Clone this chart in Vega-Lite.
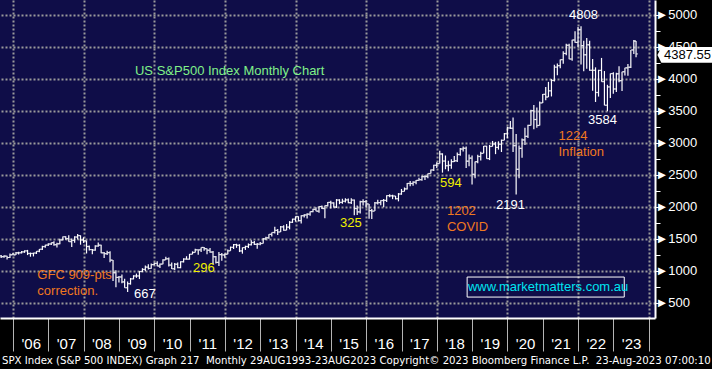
{
  "$schema": "https://vega.github.io/schema/vega-lite/v6.json",
  "width": 655,
  "height": 318,
  "autosize": {"type": "none"},
  "padding": {"left": 0, "top": 0, "right": 57, "bottom": 51},
  "background": "#000000",
  "title": {
    "text": "SPX Index (S&P 500 INDEX) Graph 217\u00a0 Monthly 29AUG1993-23AUG2023 Copyright© 2023 Bloomberg Finance L.P.\u00a0 23-Aug-2023 07:00:10",
    "orient": "bottom", "anchor": "start", "frame": "group",
    "color": "#ffffff", "font": "DejaVu Sans", "fontSize": 10.2, "fontWeight": "normal",
    "offset": 4, "dx": 2
  },
  "config": {
    "view": {"fill": "#0f0d48", "stroke": null}
  },
  "resolve": {"axis": {"x": "independent", "y": "independent"}},
  "datasets": {
    "spx": [
      {"d":"2005-08-31","o":1234,"h":1245,"l":1201,"c":1220},
      {"d":"2005-09-30","o":1220,"h":1243,"l":1205,"c":1229},
      {"d":"2005-10-31","o":1229,"h":1233,"l":1174,"c":1207},
      {"d":"2005-11-30","o":1207,"h":1270,"l":1201,"c":1249},
      {"d":"2005-12-31","o":1249,"h":1276,"l":1246,"c":1248},
      {"d":"2006-01-31","o":1248,"h":1295,"l":1246,"c":1280},
      {"d":"2006-02-28","o":1280,"h":1297,"l":1253,"c":1281},
      {"d":"2006-03-31","o":1281,"h":1310,"l":1268,"c":1295},
      {"d":"2006-04-30","o":1295,"h":1319,"l":1280,"c":1311},
      {"d":"2006-05-31","o":1311,"h":1326,"l":1245,"c":1270},
      {"d":"2006-06-30","o":1270,"h":1284,"l":1219,"c":1270},
      {"d":"2006-07-31","o":1270,"h":1281,"l":1224,"c":1277},
      {"d":"2006-08-31","o":1277,"h":1306,"l":1262,"c":1304},
      {"d":"2006-09-30","o":1304,"h":1340,"l":1290,"c":1336},
      {"d":"2006-10-31","o":1336,"h":1389,"l":1326,"c":1378},
      {"d":"2006-11-30","o":1378,"h":1407,"l":1360,"c":1401},
      {"d":"2006-12-31","o":1401,"h":1431,"l":1385,"c":1418},
      {"d":"2007-01-31","o":1418,"h":1441,"l":1403,"c":1438},
      {"d":"2007-02-28","o":1438,"h":1462,"l":1389,"c":1407},
      {"d":"2007-03-31","o":1407,"h":1439,"l":1364,"c":1421},
      {"d":"2007-04-30","o":1421,"h":1499,"l":1416,"c":1482},
      {"d":"2007-05-31","o":1482,"h":1535,"l":1476,"c":1531},
      {"d":"2007-06-30","o":1531,"h":1541,"l":1484,"c":1503},
      {"d":"2007-07-31","o":1503,"h":1556,"l":1454,"c":1455},
      {"d":"2007-08-31","o":1455,"h":1503,"l":1371,"c":1474},
      {"d":"2007-09-30","o":1474,"h":1539,"l":1439,"c":1527},
      {"d":"2007-10-31","o":1527,"h":1576,"l":1490,"c":1549},
      {"d":"2007-11-30","o":1549,"h":1553,"l":1407,"c":1481},
      {"d":"2007-12-31","o":1481,"h":1523,"l":1435,"c":1468},
      {"d":"2008-01-31","o":1468,"h":1471,"l":1270,"c":1379},
      {"d":"2008-02-28","o":1379,"h":1396,"l":1316,"c":1331},
      {"d":"2008-03-31","o":1331,"h":1340,"l":1257,"c":1323},
      {"d":"2008-04-30","o":1323,"h":1397,"l":1312,"c":1386},
      {"d":"2008-05-31","o":1386,"h":1440,"l":1374,"c":1400},
      {"d":"2008-06-30","o":1400,"h":1405,"l":1272,"c":1280},
      {"d":"2008-07-31","o":1280,"h":1292,"l":1200,"c":1267},
      {"d":"2008-08-31","o":1267,"h":1314,"l":1248,"c":1283},
      {"d":"2008-09-30","o":1283,"h":1304,"l":1133,"c":1166},
      {"d":"2008-10-31","o":1166,"h":1167,"l":840,"c":969},
      {"d":"2008-11-30","o":969,"h":1007,"l":741,"c":896},
      {"d":"2008-12-31","o":896,"h":918,"l":816,"c":903},
      {"d":"2009-01-31","o":903,"h":943,"l":805,"c":826},
      {"d":"2009-02-28","o":826,"h":876,"l":735,"c":735},
      {"d":"2009-03-31","o":735,"h":833,"l":667,"c":798},
      {"d":"2009-04-30","o":798,"h":888,"l":783,"c":873},
      {"d":"2009-05-31","o":873,"h":930,"l":866,"c":919},
      {"d":"2009-06-30","o":919,"h":956,"l":889,"c":919},
      {"d":"2009-07-31","o":919,"h":996,"l":870,"c":988},
      {"d":"2009-08-31","o":988,"h":1040,"l":979,"c":1021},
      {"d":"2009-09-30","o":1021,"h":1081,"l":992,"c":1057},
      {"d":"2009-10-31","o":1057,"h":1101,"l":1020,"c":1036},
      {"d":"2009-11-30","o":1036,"h":1113,"l":1030,"c":1096},
      {"d":"2009-12-31","o":1096,"h":1130,"l":1086,"c":1115},
      {"d":"2010-01-31","o":1115,"h":1150,"l":1071,"c":1074},
      {"d":"2010-02-28","o":1074,"h":1112,"l":1045,"c":1104},
      {"d":"2010-03-31","o":1104,"h":1180,"l":1102,"c":1169},
      {"d":"2010-04-30","o":1169,"h":1220,"l":1167,"c":1187},
      {"d":"2010-05-31","o":1187,"h":1206,"l":1066,"c":1089},
      {"d":"2010-06-30","o":1089,"h":1131,"l":1029,"c":1031},
      {"d":"2010-07-31","o":1031,"h":1120,"l":1011,"c":1102},
      {"d":"2010-08-31","o":1102,"h":1129,"l":1040,"c":1049},
      {"d":"2010-09-30","o":1049,"h":1148,"l":1040,"c":1141},
      {"d":"2010-10-31","o":1141,"h":1196,"l":1131,"c":1183},
      {"d":"2010-11-30","o":1183,"h":1227,"l":1174,"c":1181},
      {"d":"2010-12-31","o":1181,"h":1263,"l":1174,"c":1258},
      {"d":"2011-01-31","o":1258,"h":1303,"l":1257,"c":1286},
      {"d":"2011-02-28","o":1286,"h":1344,"l":1285,"c":1327},
      {"d":"2011-03-31","o":1327,"h":1333,"l":1249,"c":1326},
      {"d":"2011-04-30","o":1326,"h":1364,"l":1295,"c":1364},
      {"d":"2011-05-31","o":1364,"h":1371,"l":1312,"c":1345},
      {"d":"2011-06-30","o":1345,"h":1346,"l":1258,"c":1321},
      {"d":"2011-07-31","o":1321,"h":1357,"l":1282,"c":1292},
      {"d":"2011-08-31","o":1292,"h":1307,"l":1101,"c":1219},
      {"d":"2011-09-30","o":1219,"h":1230,"l":1114,"c":1131},
      {"d":"2011-10-31","o":1131,"h":1293,"l":1075,"c":1253},
      {"d":"2011-11-30","o":1253,"h":1277,"l":1158,"c":1247},
      {"d":"2011-12-31","o":1247,"h":1270,"l":1202,"c":1258},
      {"d":"2012-01-31","o":1258,"h":1334,"l":1258,"c":1312},
      {"d":"2012-02-28","o":1312,"h":1378,"l":1312,"c":1366},
      {"d":"2012-03-31","o":1366,"h":1420,"l":1341,"c":1409},
      {"d":"2012-04-30","o":1409,"h":1422,"l":1358,"c":1398},
      {"d":"2012-05-31","o":1398,"h":1415,"l":1292,"c":1310},
      {"d":"2012-06-30","o":1310,"h":1364,"l":1267,"c":1362},
      {"d":"2012-07-31","o":1362,"h":1392,"l":1325,"c":1379},
      {"d":"2012-08-31","o":1379,"h":1427,"l":1355,"c":1407},
      {"d":"2012-09-30","o":1407,"h":1475,"l":1396,"c":1441},
      {"d":"2012-10-31","o":1441,"h":1465,"l":1403,"c":1412},
      {"d":"2012-11-30","o":1412,"h":1434,"l":1343,"c":1416},
      {"d":"2012-12-31","o":1416,"h":1448,"l":1398,"c":1426},
      {"d":"2013-01-31","o":1426,"h":1510,"l":1426,"c":1498},
      {"d":"2013-02-28","o":1498,"h":1531,"l":1485,"c":1515},
      {"d":"2013-03-31","o":1515,"h":1570,"l":1501,"c":1569},
      {"d":"2013-04-30","o":1569,"h":1598,"l":1536,"c":1598},
      {"d":"2013-05-31","o":1598,"h":1688,"l":1581,"c":1631},
      {"d":"2013-06-30","o":1631,"h":1654,"l":1560,"c":1606},
      {"d":"2013-07-31","o":1606,"h":1698,"l":1604,"c":1686},
      {"d":"2013-08-31","o":1686,"h":1710,"l":1627,"c":1633},
      {"d":"2013-09-30","o":1633,"h":1730,"l":1633,"c":1682},
      {"d":"2013-10-31","o":1682,"h":1776,"l":1647,"c":1757},
      {"d":"2013-11-30","o":1757,"h":1814,"l":1747,"c":1806},
      {"d":"2013-12-31","o":1806,"h":1849,"l":1767,"c":1848},
      {"d":"2014-01-31","o":1848,"h":1850,"l":1770,"c":1783},
      {"d":"2014-02-28","o":1783,"h":1867,"l":1738,"c":1860},
      {"d":"2014-03-31","o":1860,"h":1884,"l":1834,"c":1872},
      {"d":"2014-04-30","o":1872,"h":1897,"l":1815,"c":1884},
      {"d":"2014-05-31","o":1884,"h":1925,"l":1860,"c":1924},
      {"d":"2014-06-30","o":1924,"h":1968,"l":1915,"c":1960},
      {"d":"2014-07-31","o":1960,"h":1991,"l":1930,"c":1931},
      {"d":"2014-08-31","o":1931,"h":2006,"l":1905,"c":2003},
      {"d":"2014-09-30","o":2003,"h":2019,"l":1965,"c":1972},
      {"d":"2014-10-31","o":1972,"h":2019,"l":1821,"c":2018},
      {"d":"2014-11-30","o":2018,"h":2076,"l":2002,"c":2068},
      {"d":"2014-12-31","o":2068,"h":2094,"l":1973,"c":2059},
      {"d":"2015-01-31","o":2059,"h":2072,"l":1988,"c":1995},
      {"d":"2015-02-28","o":1995,"h":2120,"l":1981,"c":2105},
      {"d":"2015-03-31","o":2105,"h":2118,"l":2040,"c":2068},
      {"d":"2015-04-30","o":2068,"h":2126,"l":2048,"c":2086},
      {"d":"2015-05-31","o":2086,"h":2134,"l":2067,"c":2107},
      {"d":"2015-06-30","o":2107,"h":2130,"l":2056,"c":2063},
      {"d":"2015-07-31","o":2063,"h":2133,"l":2044,"c":2104},
      {"d":"2015-08-31","o":2104,"h":2113,"l":1867,"c":1972},
      {"d":"2015-09-30","o":1972,"h":2021,"l":1872,"c":1920},
      {"d":"2015-10-31","o":1920,"h":2094,"l":1893,"c":2079},
      {"d":"2015-11-30","o":2079,"h":2116,"l":2019,"c":2080},
      {"d":"2015-12-31","o":2080,"h":2104,"l":1993,"c":2044},
      {"d":"2016-01-31","o":2044,"h":2044,"l":1812,"c":1940},
      {"d":"2016-02-28","o":1940,"h":1963,"l":1810,"c":1932},
      {"d":"2016-03-31","o":1932,"h":2073,"l":1932,"c":2060},
      {"d":"2016-04-30","o":2060,"h":2111,"l":2034,"c":2065},
      {"d":"2016-05-31","o":2065,"h":2103,"l":2025,"c":2097},
      {"d":"2016-06-30","o":2097,"h":2121,"l":1992,"c":2099},
      {"d":"2016-07-31","o":2099,"h":2178,"l":2075,"c":2174},
      {"d":"2016-08-31","o":2174,"h":2194,"l":2148,"c":2171},
      {"d":"2016-09-30","o":2171,"h":2188,"l":2119,"c":2168},
      {"d":"2016-10-31","o":2168,"h":2169,"l":2114,"c":2126},
      {"d":"2016-11-30","o":2126,"h":2214,"l":2084,"c":2199},
      {"d":"2016-12-31","o":2199,"h":2278,"l":2187,"c":2239},
      {"d":"2017-01-31","o":2239,"h":2301,"l":2239,"c":2279},
      {"d":"2017-02-28","o":2279,"h":2371,"l":2271,"c":2364},
      {"d":"2017-03-31","o":2364,"h":2401,"l":2322,"c":2363},
      {"d":"2017-04-30","o":2363,"h":2399,"l":2329,"c":2384},
      {"d":"2017-05-31","o":2384,"h":2418,"l":2353,"c":2412},
      {"d":"2017-06-30","o":2412,"h":2454,"l":2406,"c":2423},
      {"d":"2017-07-31","o":2423,"h":2484,"l":2407,"c":2470},
      {"d":"2017-08-31","o":2470,"h":2491,"l":2418,"c":2472},
      {"d":"2017-09-30","o":2472,"h":2520,"l":2446,"c":2519},
      {"d":"2017-10-31","o":2519,"h":2582,"l":2519,"c":2575},
      {"d":"2017-11-30","o":2575,"h":2657,"l":2557,"c":2648},
      {"d":"2017-12-31","o":2648,"h":2695,"l":2605,"c":2674},
      {"d":"2018-01-31","o":2674,"h":2873,"l":2674,"c":2824},
      {"d":"2018-02-28","o":2824,"h":2835,"l":2533,"c":2714},
      {"d":"2018-03-31","o":2714,"h":2801,"l":2586,"c":2641},
      {"d":"2018-04-30","o":2641,"h":2718,"l":2553,"c":2648},
      {"d":"2018-05-31","o":2648,"h":2742,"l":2594,"c":2705},
      {"d":"2018-06-30","o":2705,"h":2791,"l":2699,"c":2718},
      {"d":"2018-07-31","o":2718,"h":2848,"l":2699,"c":2816},
      {"d":"2018-08-31","o":2816,"h":2917,"l":2796,"c":2902},
      {"d":"2018-09-30","o":2902,"h":2941,"l":2864,"c":2914},
      {"d":"2018-10-31","o":2914,"h":2940,"l":2604,"c":2712},
      {"d":"2018-11-30","o":2712,"h":2816,"l":2631,"c":2760},
      {"d":"2018-12-31","o":2760,"h":2800,"l":2347,"c":2507},
      {"d":"2019-01-31","o":2507,"h":2708,"l":2444,"c":2704},
      {"d":"2019-02-28","o":2704,"h":2813,"l":2681,"c":2785},
      {"d":"2019-03-31","o":2785,"h":2861,"l":2722,"c":2834},
      {"d":"2019-04-30","o":2834,"h":2950,"l":2834,"c":2946},
      {"d":"2019-05-31","o":2946,"h":2954,"l":2750,"c":2752},
      {"d":"2019-06-30","o":2752,"h":2965,"l":2729,"c":2942},
      {"d":"2019-07-31","o":2942,"h":3028,"l":2942,"c":2980},
      {"d":"2019-08-31","o":2980,"h":3014,"l":2822,"c":2927},
      {"d":"2019-09-30","o":2927,"h":3022,"l":2892,"c":2977},
      {"d":"2019-10-31","o":2977,"h":3050,"l":2855,"c":3038},
      {"d":"2019-11-30","o":3038,"h":3154,"l":3038,"c":3141},
      {"d":"2019-12-31","o":3141,"h":3248,"l":3070,"c":3231},
      {"d":"2020-01-31","o":3231,"h":3338,"l":3214,"c":3226},
      {"d":"2020-02-28","o":3226,"h":3393,"l":2855,"c":2954},
      {"d":"2020-03-31","o":2954,"h":3137,"l":2192,"c":2585},
      {"d":"2020-04-30","o":2585,"h":2955,"l":2447,"c":2912},
      {"d":"2020-05-31","o":2912,"h":3068,"l":2767,"c":3044},
      {"d":"2020-06-30","o":3044,"h":3233,"l":2966,"c":3100},
      {"d":"2020-07-31","o":3100,"h":3281,"l":3073,"c":3271},
      {"d":"2020-08-31","o":3271,"h":3514,"l":3271,"c":3500},
      {"d":"2020-09-30","o":3500,"h":3588,"l":3210,"c":3363},
      {"d":"2020-10-31","o":3363,"h":3550,"l":3234,"c":3270},
      {"d":"2020-11-30","o":3270,"h":3646,"l":3270,"c":3622},
      {"d":"2020-12-31","o":3622,"h":3760,"l":3622,"c":3756},
      {"d":"2021-01-31","o":3756,"h":3870,"l":3663,"c":3714},
      {"d":"2021-02-28","o":3714,"h":3951,"l":3714,"c":3811},
      {"d":"2021-03-31","o":3811,"h":3994,"l":3723,"c":3973},
      {"d":"2021-04-30","o":3973,"h":4218,"l":3955,"c":4181},
      {"d":"2021-05-31","o":4181,"h":4238,"l":4056,"c":4204},
      {"d":"2021-06-30","o":4204,"h":4302,"l":4165,"c":4298},
      {"d":"2021-07-31","o":4298,"h":4429,"l":4233,"c":4395},
      {"d":"2021-08-31","o":4395,"h":4546,"l":4368,"c":4523},
      {"d":"2021-09-30","o":4523,"h":4545,"l":4305,"c":4308},
      {"d":"2021-10-31","o":4308,"h":4609,"l":4279,"c":4605},
      {"d":"2021-11-30","o":4605,"h":4743,"l":4561,"c":4567},
      {"d":"2021-12-31","o":4567,"h":4808,"l":4495,"c":4766},
      {"d":"2022-01-31","o":4766,"h":4819,"l":4223,"c":4516},
      {"d":"2022-02-28","o":4516,"h":4595,"l":4115,"c":4374},
      {"d":"2022-03-31","o":4374,"h":4637,"l":4157,"c":4530},
      {"d":"2022-04-30","o":4530,"h":4593,"l":4124,"c":4132},
      {"d":"2022-05-31","o":4132,"h":4307,"l":3811,"c":4132},
      {"d":"2022-06-30","o":4132,"h":4178,"l":3637,"c":3785},
      {"d":"2022-07-31","o":3785,"h":4140,"l":3721,"c":4130},
      {"d":"2022-08-31","o":4130,"h":4325,"l":3955,"c":3955},
      {"d":"2022-09-30","o":3955,"h":4120,"l":3585,"c":3586},
      {"d":"2022-10-31","o":3586,"h":3905,"l":3492,"c":3872},
      {"d":"2022-11-30","o":3872,"h":4080,"l":3698,"c":4080},
      {"d":"2022-12-31","o":4080,"h":4101,"l":3764,"c":3840},
      {"d":"2023-01-31","o":3840,"h":4095,"l":3794,"c":4077},
      {"d":"2023-02-28","o":4077,"h":4195,"l":3944,"c":3970},
      {"d":"2023-03-31","o":3970,"h":4110,"l":3809,"c":4109},
      {"d":"2023-04-30","o":4109,"h":4170,"l":4049,"c":4170},
      {"d":"2023-05-31","o":4170,"h":4231,"l":4048,"c":4180},
      {"d":"2023-06-30","o":4180,"h":4449,"l":4167,"c":4450},
      {"d":"2023-07-31","o":4450,"h":4607,"l":4386,"c":4589},
      {"d":"2023-08-23","o":4589,"h":4589,"l":4335,"c":4387.55}
    ],
    "notes": [
      {"d":"2009-06-15","v":4120,"t":"US S&P500 Index Monthly Chart","k":"title"},
      {"d":"2021-09-28","v":4995,"t":"4808","k":"level"},
      {"d":"2022-04-13","v":3355,"t":"3584","k":"level"},
      {"d":"2021-06-12","v":3105,"t":["1224","Inflation"],"k":"event"},
      {"d":"2018-02-03","v":2370,"t":"594","k":"drop"},
      {"d":"2019-09-04","v":2027,"t":"2191","k":"level"},
      {"d":"2018-04-15","v":1937,"t":["1202","COVID"],"k":"event"},
      {"d":"2015-04-05","v":1750,"t":"325","k":"drop"},
      {"d":"2011-02-05","v":1037,"t":"296","k":"drop"},
      {"d":"2006-09-09","v":933,"t":["GFC 909-pts","correction."],"k":"event"},
      {"d":"2009-06-05","v":636,"t":"667","k":"level"},
      {"d":"2018-11-18","v":745,"t":"www.marketmatters.com.au","k":"site"}
    ],
    "sitebox": [
      {"d":"2018-11-10","d2":"2023-04-23","v":902,"v2":589}
    ],
    "last": [
      {"d":"2025-01-15","v":4387.55,"t":"4387.55"}
    ]
  },
  "layer": [
    {
      "data": {"name": "spx"},
      "mark": {"type": "rule", "color": "#ffffff", "strokeWidth": 1.2},
      "encoding": {
        "x": {
          "field": "d", "type": "temporal",
          "scale": {"type": "utc", "domain": [{"year": 2005, "month": 8, "date": 19, "utc": true}, {"year": 2024, "month": 3, "date": 6, "utc": true}]},
          "axis": {
            "orient": "bottom",
            "values": [
              {"year": 2006, "month": 1, "date": 1, "utc": true},
              {"year": 2008, "month": 1, "date": 1, "utc": true},
              {"year": 2010, "month": 1, "date": 1, "utc": true},
              {"year": 2012, "month": 1, "date": 1, "utc": true},
              {"year": 2014, "month": 1, "date": 1, "utc": true},
              {"year": 2016, "month": 1, "date": 1, "utc": true},
              {"year": 2018, "month": 1, "date": 1, "utc": true},
              {"year": 2020, "month": 1, "date": 1, "utc": true},
              {"year": 2022, "month": 1, "date": 1, "utc": true},
              {"year": 2024, "month": 1, "date": 1, "utc": true}
            ],
            "title": null,
            "labels": false,
            "ticks": false,
            "domain": false,
            "grid": true,
            "gridColor": "#9a9a9a",
            "gridWidth": 2,
            "gridDash": [2, 2]
          }
        },
        "y": {
          "field": "l", "type": "quantitative",
          "scale": {"domain": [262, 5230], "nice": false, "zero": false},
          "axis": {
            "orient": "right",
            "values": [500, 1000, 1500, 2000, 2500, 3000, 3500, 4000, 4500, 5000],
            "title": null,
            "labels": false,
            "ticks": false,
            "domain": false,
            "grid": true,
            "gridColor": "#9a9a9a",
            "gridWidth": 2,
            "gridDash": [2, 2]
          }
        },
        "y2": {"field": "h"}
      }
    },
    {
      "data": {"name": "spx"},
      "mark": {"type": "tick", "orient": "horizontal", "color": "#ffffff", "size": 2, "thickness": 1.2, "xOffset": -1},
      "encoding": {
        "x": {
          "field": "d", "type": "temporal",
          "scale": {"type": "utc", "domain": [{"year": 2005, "month": 8, "date": 19, "utc": true}, {"year": 2024, "month": 3, "date": 6, "utc": true}]},
          "axis": {
            "orient": "bottom",
            "values": [
              {"year": 2006, "month": 1, "date": 1, "utc": true},
              {"year": 2007, "month": 1, "date": 1, "utc": true},
              {"year": 2008, "month": 1, "date": 1, "utc": true},
              {"year": 2009, "month": 1, "date": 1, "utc": true},
              {"year": 2010, "month": 1, "date": 1, "utc": true},
              {"year": 2011, "month": 1, "date": 1, "utc": true},
              {"year": 2012, "month": 1, "date": 1, "utc": true},
              {"year": 2013, "month": 1, "date": 1, "utc": true},
              {"year": 2014, "month": 1, "date": 1, "utc": true},
              {"year": 2015, "month": 1, "date": 1, "utc": true},
              {"year": 2016, "month": 1, "date": 1, "utc": true},
              {"year": 2017, "month": 1, "date": 1, "utc": true},
              {"year": 2018, "month": 1, "date": 1, "utc": true},
              {"year": 2019, "month": 1, "date": 1, "utc": true},
              {"year": 2020, "month": 1, "date": 1, "utc": true},
              {"year": 2021, "month": 1, "date": 1, "utc": true},
              {"year": 2022, "month": 1, "date": 1, "utc": true},
              {"year": 2023, "month": 1, "date": 1, "utc": true},
              {"year": 2024, "month": 1, "date": 1, "utc": true}
            ],
            "title": null,
            "labelExpr": "utcyear(datum.value) >= 2024 ? '' : utcFormat(datum.value, \"'%y\")",
            "labelOffset": 17.66,
            "labelPadding": -15,
            "labelFont": "Liberation Sans",
            "labelFontSize": 15,
            "labelColor": "#ffffff",
            "labelAlign": "center",
            "labelOverlap": false,
            "labelFlush": false,
            "tickSize": 33,
            "tickColor": "#b4b4b4",
            "tickWidth": 1,
            "domainColor": "#ffffff",
            "domainWidth": 2,
            "grid": false
          }
        },
        "y": {
          "field": "o", "type": "quantitative",
          "scale": {"domain": [262, 5230], "nice": false, "zero": false},
          "axis": {
            "orient": "right",
            "values": [500, 750, 1000, 1250, 1500, 1750, 2000, 2250, 2500, 2750, 3000, 3250, 3500, 3750, 4000, 4250, 4500, 4750, 5000],
            "title": null,
            "labelExpr": "datum.value % 500 === 0 ? '►' + datum.value : ''",
            "labelFont": "Liberation Sans",
            "labelFontSize": 13,
            "labelColor": "#ffffff",
            "labelPadding": -5,
            "labelBaseline": "middle",
            "labelOverlap": false,
            "labelFlush": false,
            "tickSize": 5,
            "tickColor": "#ffffff",
            "tickWidth": 1,
            "domainColor": "#ffffff",
            "domainWidth": 2,
            "grid": false
          }
        }
      }
    },
    {
      "data": {"name": "spx"},
      "mark": {"type": "tick", "orient": "horizontal", "color": "#ffffff", "size": 2, "thickness": 1.2, "xOffset": 1},
      "encoding": {
        "x": {"field": "d", "type": "temporal", "axis": null},
        "y": {"field": "c", "type": "quantitative", "axis": null}
      }
    },
    {
      "data": {"name": "sitebox"},
      "mark": {"type": "rect", "fillOpacity": 0, "stroke": "#ffffff", "strokeWidth": 1},
      "encoding": {
        "x": {"field": "d", "type": "temporal", "axis": null},
        "x2": {"field": "d2"},
        "y": {"field": "v", "type": "quantitative", "axis": null},
        "y2": {"field": "v2"}
      }
    },
    {
      "data": {"name": "notes"},
      "mark": {"type": "text", "align": "left", "baseline": "middle", "font": "Liberation Sans", "fontSize": 13, "lineHeight": 16},
      "encoding": {
        "x": {"field": "d", "type": "temporal", "axis": null},
        "y": {"field": "v", "type": "quantitative", "axis": null},
        "text": {"field": "t"},
        "color": {
          "field": "k", "type": "nominal", "legend": null,
          "scale": {"domain": ["title", "level", "drop", "event", "site"], "range": ["#80f088", "#ffffff", "#f0f000", "#f07820", "#00e4f0"]}
        }
      }
    },
    {
      "data": {"name": "last"},
      "mark": {"type": "point", "filled": true, "color": "#ffffff", "opacity": 1, "size": 3136, "yOffset": 1, "shape": "M-1,0L-0.86,-0.28L1,-0.28L1,0.28L-0.86,0.28Z"},
      "encoding": {
        "x": {"field": "d", "type": "temporal", "axis": null},
        "y": {"field": "v", "type": "quantitative", "axis": null}
      }
    },
    {
      "data": {"name": "last"},
      "mark": {"type": "text", "align": "center", "baseline": "middle", "font": "Liberation Sans", "fontSize": 13, "color": "#000000", "dx": 2, "dy": 1},
      "encoding": {
        "x": {"field": "d", "type": "temporal", "axis": null},
        "y": {"field": "v", "type": "quantitative", "axis": null},
        "text": {"field": "t"}
      }
    }
  ]
}
